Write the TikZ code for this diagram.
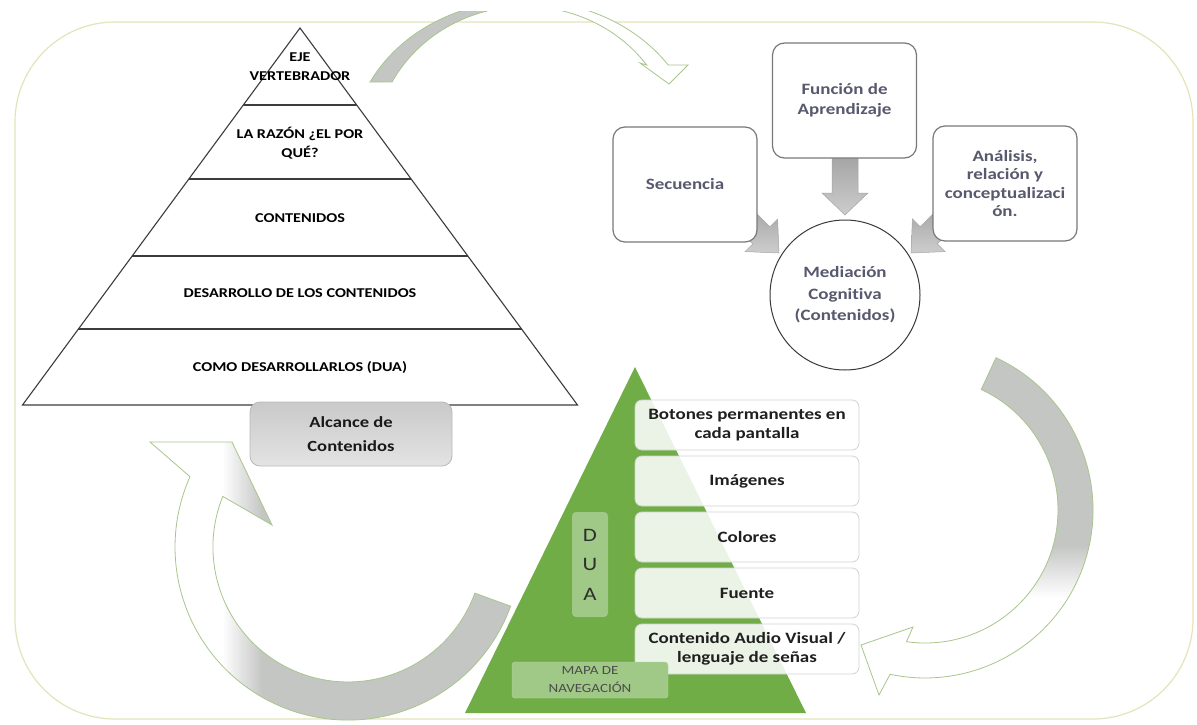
\documentclass[tikz,border=0pt]{standalone}
\usepackage{fontspec}
\setmainfont{Carlito}[FakeStretch=1.2, Ligatures=NoCommon]
\usetikzlibrary{calc}
\definecolor{framecol}{RGB}{228,228,186}
\definecolor{bandgray}{RGB}{196,198,196}
\definecolor{bandline}{RGB}{168,198,140}
\definecolor{dgreen}{RGB}{112,173,71}
\definecolor{lgreen}{RGB}{160,200,134}
\definecolor{boxtext}{RGB}{88,88,110}
\definecolor{pyrline}{RGB}{60,60,60}
\definecolor{boxline}{RGB}{120,120,120}
\definecolor{arrgrayA}{RGB}{160,160,160}
\definecolor{arrgrayB}{RGB}{205,205,205}
\tikzset{
  pyrtext/.style={font=\bfseries\fontsize{13.5}{19}\selectfont, align=center, text=black, inner sep=0pt},
  topbox/.style={draw=boxline, line width=1.2pt, rounded corners=12pt, fill=white, text=boxtext,
    font=\bfseries\fontsize{15.8}{19.5}\selectfont, align=center, minimum width=144pt, minimum height=115pt, inner sep=2pt},
  listbox/.style={draw=gray!35, line width=0.8pt, rounded corners=7pt, fill=white, fill opacity=0.86, text opacity=1,
    text=black!88, font=\bfseries\fontsize{15.8}{19.5}\selectfont, align=center, minimum width=224pt, minimum height=50pt, inner sep=0pt},
  grayarrow/.style={top color=arrgrayA, bottom color=arrgrayB, draw=gray!70, line width=0.5pt},
  bandedge/.style={draw=bandline, line width=0.8pt},
}
\def\pathA{(510.6,606.2) arc[start angle=20, end angle=204, radius=173] -- (150,442) -- (232,442) -- (272,525) -- (222.8,496.4) arc[start angle=202, end angle=20, radius=135] -- cycle}
\def\pathB{(996,357.7) arc[start angle=-65, end angle=102, radius=168] -- (879,695) -- (861,645) -- (913,627) -- (906.5,641.7) arc[start angle=98, end angle=-65, radius=133] -- cycle}
\def\pathC{(370,82.1) arc[start angle=-153, end angle=-34.6, x radius=174, y radius=149.6] -- (688,65) -- (669,84) -- (640,63) -- (646.7,65) arc[start angle=-36.3, end angle=-151.7, x radius=151, y radius=143.5] -- cycle}
\begin{document}
\begin{tikzpicture}[x=1pt, y=-1pt]
\useasboundingbox (0,0) rectangle (1197,725);
\fill[white] (0,0) rectangle (1197,725);
% frame
\draw[framecol, line width=1.2pt, rounded corners=100pt] (15,22) rectangle (1193,719);
% top arrow
\begin{scope}
  \clip (0,12) rectangle (1197,725);
  \fill[white] \pathC;
  \begin{scope}
    \clip \pathC;
    \fill[bandgray] (340,0) rectangle (478,100);
    \shade[left color=bandgray, right color=white] (478,0) rectangle (545,100);
  \end{scope}
  \draw[bandedge] \pathC;
\end{scope}
% pyramid
\coordinate (apex) at (300,28);
\coordinate (bl) at (22.5,405);
\coordinate (br) at (577.5,405);
\filldraw[fill=white, draw=pyrline, line width=1.1pt] (apex) -- (br) -- (bl) -- cycle;
\foreach \t in {0.2042,0.4005,0.6048,0.7984}{
  \draw[pyrline, line width=1.1pt] ($(apex)!\t!(bl)$) -- ($(apex)!\t!(br)$);
}
\node[pyrtext] (p1) at (300,67) {EJE\\VERTEBRADOR};
\node[pyrtext] (p2) at (300,143) {LA RAZÓN ¿EL POR\\QUÉ?};
\node[pyrtext] (p3) at (300,218) {CONTENIDOS};
\node[pyrtext] (p4) at (300,293) {DESARROLLO DE LOS CONTENIDOS};
\node[pyrtext] (p5) at (300,368) {COMO DESARROLLARLOS (DUA)};
% alcance box
\node[draw=gray!55, line width=0.8pt, rounded corners=10pt, top color=gray!42, bottom color=gray!22,
  minimum width=202pt, minimum height=64pt, align=center, text=black!90,
  font=\bfseries\fontsize{15.5}{24}\selectfont] (alc) at (351,434) {Alcance de\\Contenidos};
% bottom-left arrow
\fill[white] \pathA;
\begin{scope}
  \clip \pathA;
  \fill[bandgray] (262,380) rectangle (620,740);
  \shade[left color=white, right color=bandgray] (222,380) rectangle (262,740);
\end{scope}
\draw[bandedge] \pathA;
% right arrow
\fill[white] \pathB;
\begin{scope}
  \clip \pathB;
  \fill[bandgray] (800,330) rectangle (1120,545);
  \shade[top color=bandgray, bottom color=white] (800,545) rectangle (1120,598);
\end{scope}
\draw[bandedge] \pathB;
% small gray arrows
\path[grayarrow] (832,150) -- (858,150) -- (858,193) -- (868,193) -- (845,215) -- (822,193) -- (832,193) -- cycle;
\path[grayarrow] (779,253) -- (777.6,219) -- (769.8,226.8) -- (745.1,202.1) -- (728.1,219.1) -- (752.8,243.8) -- (745,251.6) -- cycle;
\path[grayarrow] (911,253) -- (912.4,219) -- (920.2,226.8) -- (944.9,202.1) -- (961.9,219.1) -- (937.2,243.8) -- (945,251.6) -- cycle;
% top boxes
\node[topbox] (fun) at (844.5,100.5) {Función de\\Aprendizaje};
\node[topbox] (sec) at (685,184.5) {Secuencia};
\node[topbox, font=\bfseries\fontsize{15.8}{18.5}\selectfont] (ana) at (1005,183.5) {Análisis,\\relación y\\conceptualizaci\\ón.};
\node[circle, draw=gray!45!black, line width=1pt, fill=white, minimum size=150pt, inner sep=0pt,
  text=boxtext, align=center, font=\bfseries\fontsize{15.8}{21.5}\selectfont] (med) at (845,295) {Mediación\\Cognitiva\\(Contenidos)};
% green pyramid
\fill[dgreen] (635,367) -- (806,713) -- (465,713) -- cycle;
\node[listbox] (b1) at (747,425) {Botones permanentes en\\cada pantalla};
\node[listbox] (b2) at (747,481) {Imágenes};
\node[listbox] (b3) at (747,537) {Colores};
\node[listbox] (b4) at (747,593) {Fuente};
\node[listbox] (b5) at (747,649) {Contenido Audio Visual /\\lenguaje de señas};
\node[fill=lgreen, rounded corners=4pt, minimum width=36pt, minimum height=105pt, inner sep=0pt,
  align=center, text=black!82, font=\fontsize{19}{29.5}\selectfont] (dua) at (590,564.5) {D\\U\\A};
\node[fill=lgreen, draw=lgreen!70!white, rounded corners=3pt, minimum width=156pt, minimum height=36pt, inner sep=0pt,
  align=center, text=black!70, font=\fontsize{12.5}{18}\selectfont] (mapa) at (590,680) {MAPA DE\\NAVEGACIÓN};
\end{tikzpicture}
\end{document}
